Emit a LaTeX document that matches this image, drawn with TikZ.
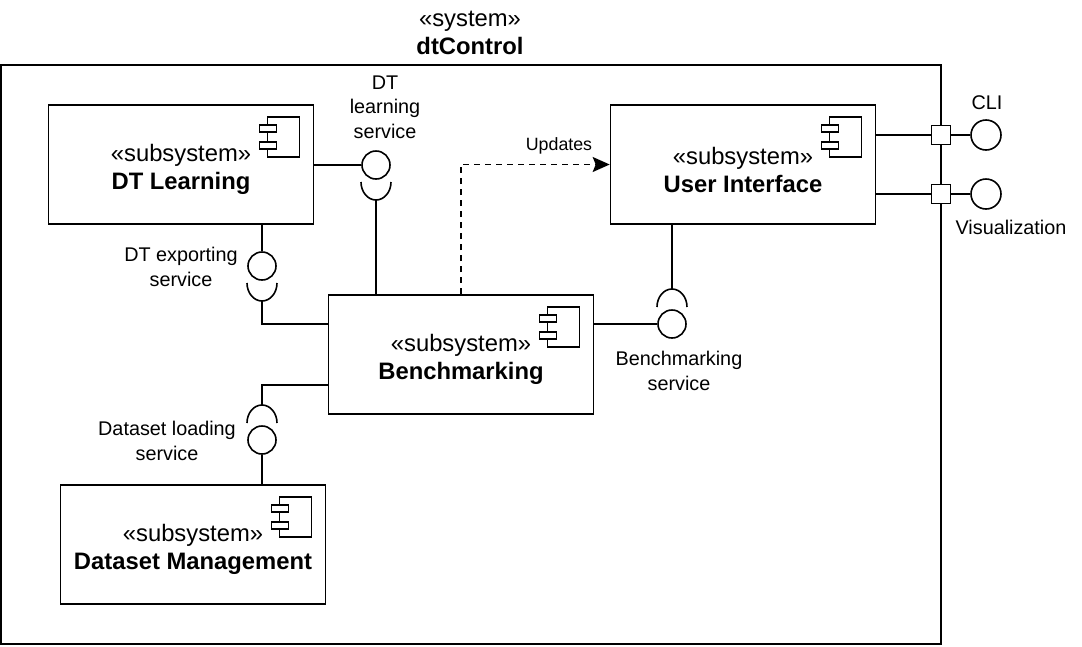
\documentclass[tikz,border=0pt]{standalone}
\usepackage{fontspec}
\setmainfont{Liberation Sans}
\usetikzlibrary{arrows.meta,calc}
\begin{document}
\begin{tikzpicture}[x=1pt,y=-1pt,line width=1.6pt,
  sub/.style={draw,minimum width=265pt,minimum height=119pt,inner sep=0pt},
  subtxt/.style={align=center,inner sep=0pt,font=\fontsize{23.8}{28}\selectfont},
  lolli/.style={draw,circle,minimum size=28pt,inner sep=0pt,fill=white},
  port/.style={draw,minimum size=19pt,inner sep=0pt,fill=white},
  lbl/.style={align=center,inner sep=0pt,font=\fontsize{19.8}{24.5}\selectfont},
  dep/.style={dash pattern=on 6pt off 5pt,-{Stealth[length=17pt,width=15pt,inset=3pt]}}]
\useasboundingbox (0,0) rectangle (1082,646);
\newcommand\compicon[1]{%
  \begin{scope}[shift={(#1.north east)}]
    \draw (-47,13) rectangle (-15,53);
    \draw[fill=white] (-55,21) rectangle (-38,28);
    \draw[fill=white] (-55,38) rectangle (-38,45);
  \end{scope}}
% system frame
\node[draw,minimum width=940pt,minimum height=579pt,inner sep=0pt] (sys) at (471,354.5) {};
\node[subtxt] (systitle) at (470,33) {«system»\\\textbf{dtControl}};
% subsystems
\node[sub] (dtl) at (181,164.5) {};
\node[sub] (ui) at (743,164.5) {};
\node[sub] (bm) at (461,354.5) {};
\node[sub] (dm) at (193,544.5) {};
\node[subtxt] (dtlt) at ([yshift=-5pt]dtl.center) {«subsystem»\\\textbf{DT Learning}};
\node[subtxt] (uit) at ([yshift=-5pt]ui.center) {«subsystem»\\\textbf{User Interface}};
\node[subtxt] (bmt) at ([yshift=-5pt]bm.center) {«subsystem»\\\textbf{Benchmarking}};
\node[subtxt] (dmt) at ([yshift=-5pt]dm.center) {«subsystem»\\\textbf{Dataset Management}};
\compicon{dtl}\compicon{ui}\compicon{bm}\compicon{dm}
% provided interfaces
\node[lolli] (lp1) at (376,165) {};
\node[lolli] (lp2) at (262,266) {};
\node[lolli] (lp3) at (672,324) {};
\node[lolli] (lp4) at (262,440) {};
% sockets
\draw ([shift={(-15,17)}]lp1.center) arc[start angle=180,end angle=360,x radius=15pt,y radius=18pt];
\draw ([shift={(-15,17)}]lp2.center) arc[start angle=180,end angle=360,x radius=15pt,y radius=18pt];
\draw ([shift={(-15,-17)}]lp3.center) arc[start angle=180,end angle=0,x radius=15pt,y radius=18pt];
\draw ([shift={(-15,-17)}]lp4.center) arc[start angle=180,end angle=0,x radius=15pt,y radius=18pt];
\coordinate (s1b) at ([yshift=-35pt]lp1.center);
\coordinate (s2b) at ([yshift=-35pt]lp2.center);
\coordinate (s3t) at ([yshift=35pt]lp3.center);
\coordinate (s4t) at ([yshift=35pt]lp4.center);
\coordinate (dl) at ([yshift=30pt]bm.south west);
% connectors
\draw (lp1.west -| dtl.east) -- (lp1.west);
\draw (s1b) -- (s1b |- bm.north);
\draw (dtl.south -| lp2) -- (lp2.north);
\draw (s2b) |- (bm.west |- lp3);
\draw (bm.east |- lp3) -- (lp3.west);
\draw (s3t) -- (s3t |- ui.south);
\draw (s4t) |- (dl);
\draw (lp4.south) -- (lp4.south |- dm.north);
\draw[dep] (bm.north) |- (ui.west);
\node[inner sep=0pt,font=\fontsize{17.8}{20}\selectfont] (upd) at (559,146) {Updates};
% ports
\node[port] (p1) at (941,135) {};
\node[port] (p2) at (941,194) {};
\node[lolli,minimum size=30pt] (cli) at (986,135) {};
\node[lolli,minimum size=30pt] (vis) at (986,194) {};
\draw (p1.west -| ui.east) -- (p1.west);
\draw (p2.west -| ui.east) -- (p2.west);
\draw (p1.east) -- (cli.west);
\draw (p2.east) -- (vis.west);
% labels
\node[lbl] (l1) at (385,107) {DT\\learning\\service};
\node[lbl] (l2) at (181,267) {DT exporting\\service};
\node[lbl] (l3) at (679,371) {Benchmarking\\service};
\node[lbl] (l4) at (167,441) {Dataset loading\\service};
\node[lbl] (lcli) at (987,103) {CLI};
\node[lbl] (lvis) at (1011,227) {Visualization};
\end{tikzpicture}
\end{document}
